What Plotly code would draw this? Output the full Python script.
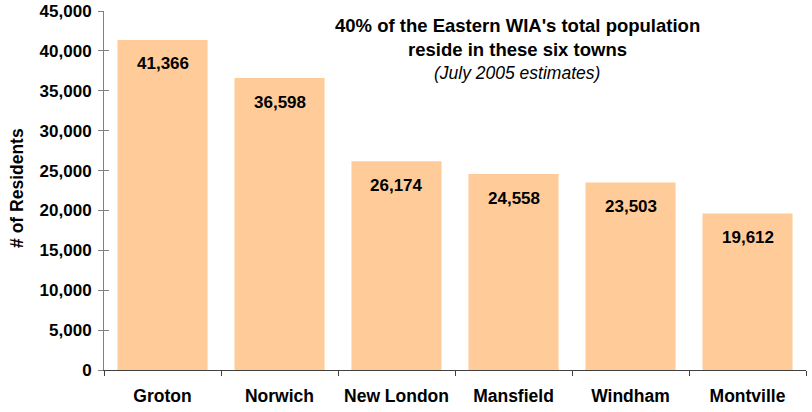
import plotly.graph_objects as go

towns = ["Groton", "Norwich", "New London", "Mansfield", "Windham", "Montville"]
residents = [41366, 36598, 26174, 24558, 23503, 19612]
y_ticks = [0, 5000, 10000, 15000, 20000, 25000, 30000, 35000, 40000, 45000]
y_tick_labels = ["0", "5,000", "10,000", "15,000", "20,000", "25,000", "30,000", "35,000", "40,000", "45,000"]

FONT = "Liberation Sans, Arial, sans-serif"

fig = go.Figure()
fig.add_trace(go.Bar(
    x=towns, y=residents, marker=dict(color="#FFCC99", line=dict(width=0)),
    width=0.77, hoverinfo="skip",
))
# invisible trace on the overlay axis so its inner tick marks render
fig.add_trace(go.Scatter(x=[towns[0]], y=[0], yaxis="y2", mode="markers",
                         marker=dict(opacity=0), hoverinfo="skip", showlegend=False))

for t, v in zip(towns, residents):
    fig.add_annotation(x=t, y=v, text=f"<b>{v:,}</b>", showarrow=False,
                       yshift=-24, font=dict(family=FONT, size=17, color="#000000"))

title_lines = ["<b>40% of the Eastern WIA's total population</b>", "<b>reside in these six towns</b>"]
fig.add_annotation(xref="paper", yref="paper", x=0.589, y=0.961, xanchor="center", yanchor="middle",
                   text=title_lines[0], showarrow=False,
                   font=dict(family=FONT, size=18.5, color="#000000"))
fig.add_annotation(xref="paper", yref="paper", x=0.589, y=0.894, xanchor="center", yanchor="middle",
                   text=title_lines[1], showarrow=False,
                   font=dict(family=FONT, size=18.5, color="#000000"))
fig.add_annotation(xref="paper", yref="paper", x=0.589, y=0.827, xanchor="center", yanchor="middle",
                   text="<i>(July 2005 estimates)</i>", showarrow=False,
                   font=dict(family=FONT, size=17.5, color="#000000"))
fig.add_annotation(xref="paper", yref="paper", x=-0.124, y=0.507, xanchor="center", yanchor="middle",
                   text="<b># of Residents</b>", textangle=-90, showarrow=False,
                   font=dict(family=FONT, size=17.5, color="#000000"))

fig.update_layout(
    width=812, height=412,
    margin=dict(l=104, r=6, t=11, b=42, autoexpand=False),
    plot_bgcolor="#FFFFFF", paper_bgcolor="#FFFFFF",
    showlegend=False, bargap=0.23, hovermode=False,
    font=dict(family=FONT, color="#000000"),
    yaxis2=dict(overlaying="y", side="left", range=[0, 45000], tickvals=y_ticks,
                showticklabels=False, ticks="inside", ticklen=5, tickcolor="#808080",
                showline=False, showgrid=False, zeroline=False, fixedrange=True, automargin=False),
)
fig.update_xaxes(
    showline=True, linecolor="#404040", linewidth=1,
    ticks="outside", ticklen=5, tickcolor="#404040", tickson="boundaries",
    tickfont=dict(family=FONT, size=17.5, color="#000000"),
    showgrid=False, fixedrange=True, automargin=False,
    tickprefix="<b>", ticksuffix="</b>", ticklabelstandoff=10,
)
fig.layout.yaxis.update(
    range=[0, 45000], tickvals=y_ticks, ticktext=[f"<b>{s}</b>" for s in y_tick_labels],
    showline=True, linecolor="#808080", linewidth=1,
    ticks="outside", ticklen=5, tickcolor="#808080",
    tickfont=dict(family=FONT, size=17, color="#000000"),
    showgrid=False, zeroline=False, fixedrange=True, automargin=False,
    ticklabelstandoff=3,
)

# remove the browser's default 8px body margin so the figure sits at the page origin
fig.write_html("out.html", config={"displayModeBar": False},
               post_script="document.body.style.margin='0';")
